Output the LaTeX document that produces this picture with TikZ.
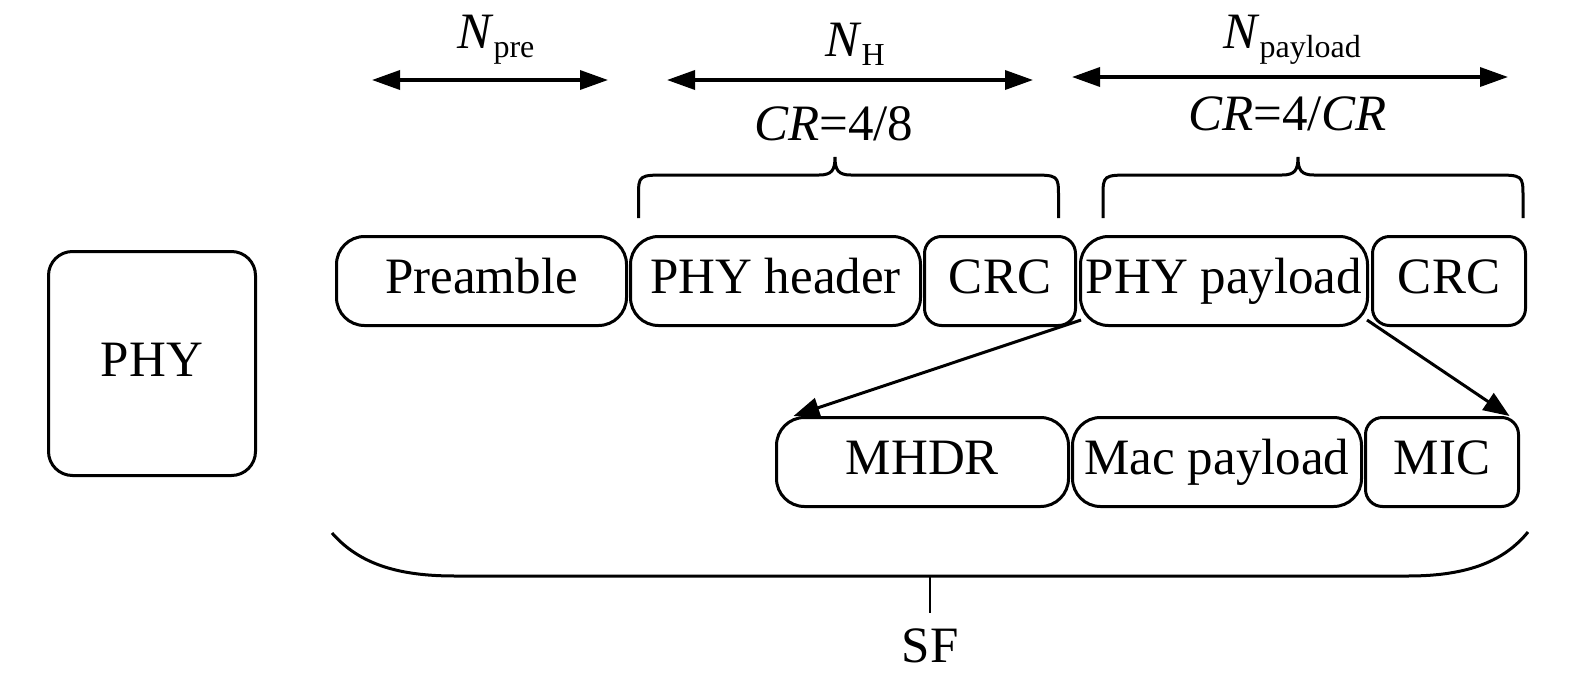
\documentclass[tikz,border=0pt]{standalone}
\usepackage{fontspec}
\setmainfont{Liberation Serif}
\usetikzlibrary{arrows.meta,calc}
\newcommand\lsub[1]{\raisebox{-9pt}{\fontsize{32}{36}\selectfont #1}}
\begin{document}
\begin{tikzpicture}[x=1pt,y=-1pt,
  txt/.style={font=\fontsize{51}{60}\selectfont, inner sep=0pt},
  blk/.style={draw, line width=3pt, rounded corners=28pt, minimum height=89pt, inner sep=0pt, text height=25pt, text depth=0pt, txt},
  sblk/.style={blk, rounded corners=17pt},
  conn/.style={line width=3pt, -{Triangle[length=26pt,width=20pt]}},
  dimarrow/.style={line width=3.5pt, {Triangle[length=28pt,width=19pt]}-{Triangle[length=28pt,width=19pt]}},
  brc/.style={line width=3pt}]
\useasboundingbox (0,0) rectangle (1575,683);

% left PHY box
\node[blk, minimum width=207pt, minimum height=224pt, rounded corners=24pt] (phy) at (152,363.5) {PHY};

% first row
\node[blk, minimum width=290pt] (pre) at (481.5,281) {Preamble};
\node[blk, minimum width=290pt] (hdr) at (775.5,281) {PHY header};
\node[sblk, minimum width=151pt] (crc1) at (1000,281) {CRC};
\node[blk, minimum width=287pt] (pay) at (1224,281) {PHY payload};
\node[sblk, minimum width=153pt] (crc2) at (1449,281) {CRC};

% second row
\node[blk, minimum width=292pt] (mhdr) at (922.5,462) {MHDR};
\node[blk, minimum width=289pt] (mac) at (1217,462) {Mac payload};
\node[sblk, minimum width=153pt] (mic) at (1442,462) {MIC};

% arrows from PHY payload
\draw[conn] ($(pay.south west)+(2,-7)$) -- ($(mhdr.north west)+(18.5,0)$);
\draw[conn] ($(pay.south east)+(-2,-7)$) -- ($(mic.north east)+(-10.5,0)$);

% top labels
\node[txt, anchor=base west] (npre) at (457,48) {\textit{N}\lsub{pre}};
\node[txt, anchor=base west] (nh) at (825,56) {\textit{N}\lsub{H}};
\node[txt, anchor=base west] (npay) at (1223,48) {\textit{N}\lsub{payload}};
\node[txt, anchor=base west] (cr1) at (754,140) {\textit{CR}=4/8};
\node[txt, anchor=base west] (cr2) at (1188,130) {\textit{CR}=4/\textit{CR}};

% dimension arrows
\coordinate (d1a) at (372,80); \coordinate (d1b) at (608,80);
\coordinate (d2a) at (667,80); \coordinate (d2b) at (1033,80);
\coordinate (d3a) at (1072,77); \coordinate (d3b) at (1508,77);
\draw[dimarrow] (d1a) -- (d1b);
\draw[dimarrow] (d2a) -- (d2b);
\draw[dimarrow] (d3a) -- (d3b);

% braces
\draw[brc] (638.5,218) -- (638.5,197) .. controls (638.5,175) .. (668,175) -- (819,175)
  .. controls (832,175) and (835,170) .. (835,157)
  .. controls (835,170) and (838,175) .. (851,175) -- (1029,175)
  .. controls (1058.5,175) .. (1058.5,197) -- (1058.5,218);
\draw[brc] (1103,218) -- (1103,197) .. controls (1103,175) .. (1133,175) -- (1282,175)
  .. controls (1295,175) and (1298,170) .. (1298,157)
  .. controls (1298,170) and (1301,175) .. (1314,175) -- (1493,175)
  .. controls (1523,175) .. (1523,197) -- (1523,218);

% bottom brace
\draw[brc] (332,533) .. controls (360,565) and (400,576) .. (455,576) -- (1408,576)
  .. controls (1470,576) and (1505,560) .. (1528,532);
\node[txt, anchor=base] (sf) at (930,662) {SF};
\coordinate (sft) at (930,576);
\coordinate (sfb) at (930,613);
\draw[line width=2.5pt] (sft) -- (sfb);
\end{tikzpicture}
\end{document}
